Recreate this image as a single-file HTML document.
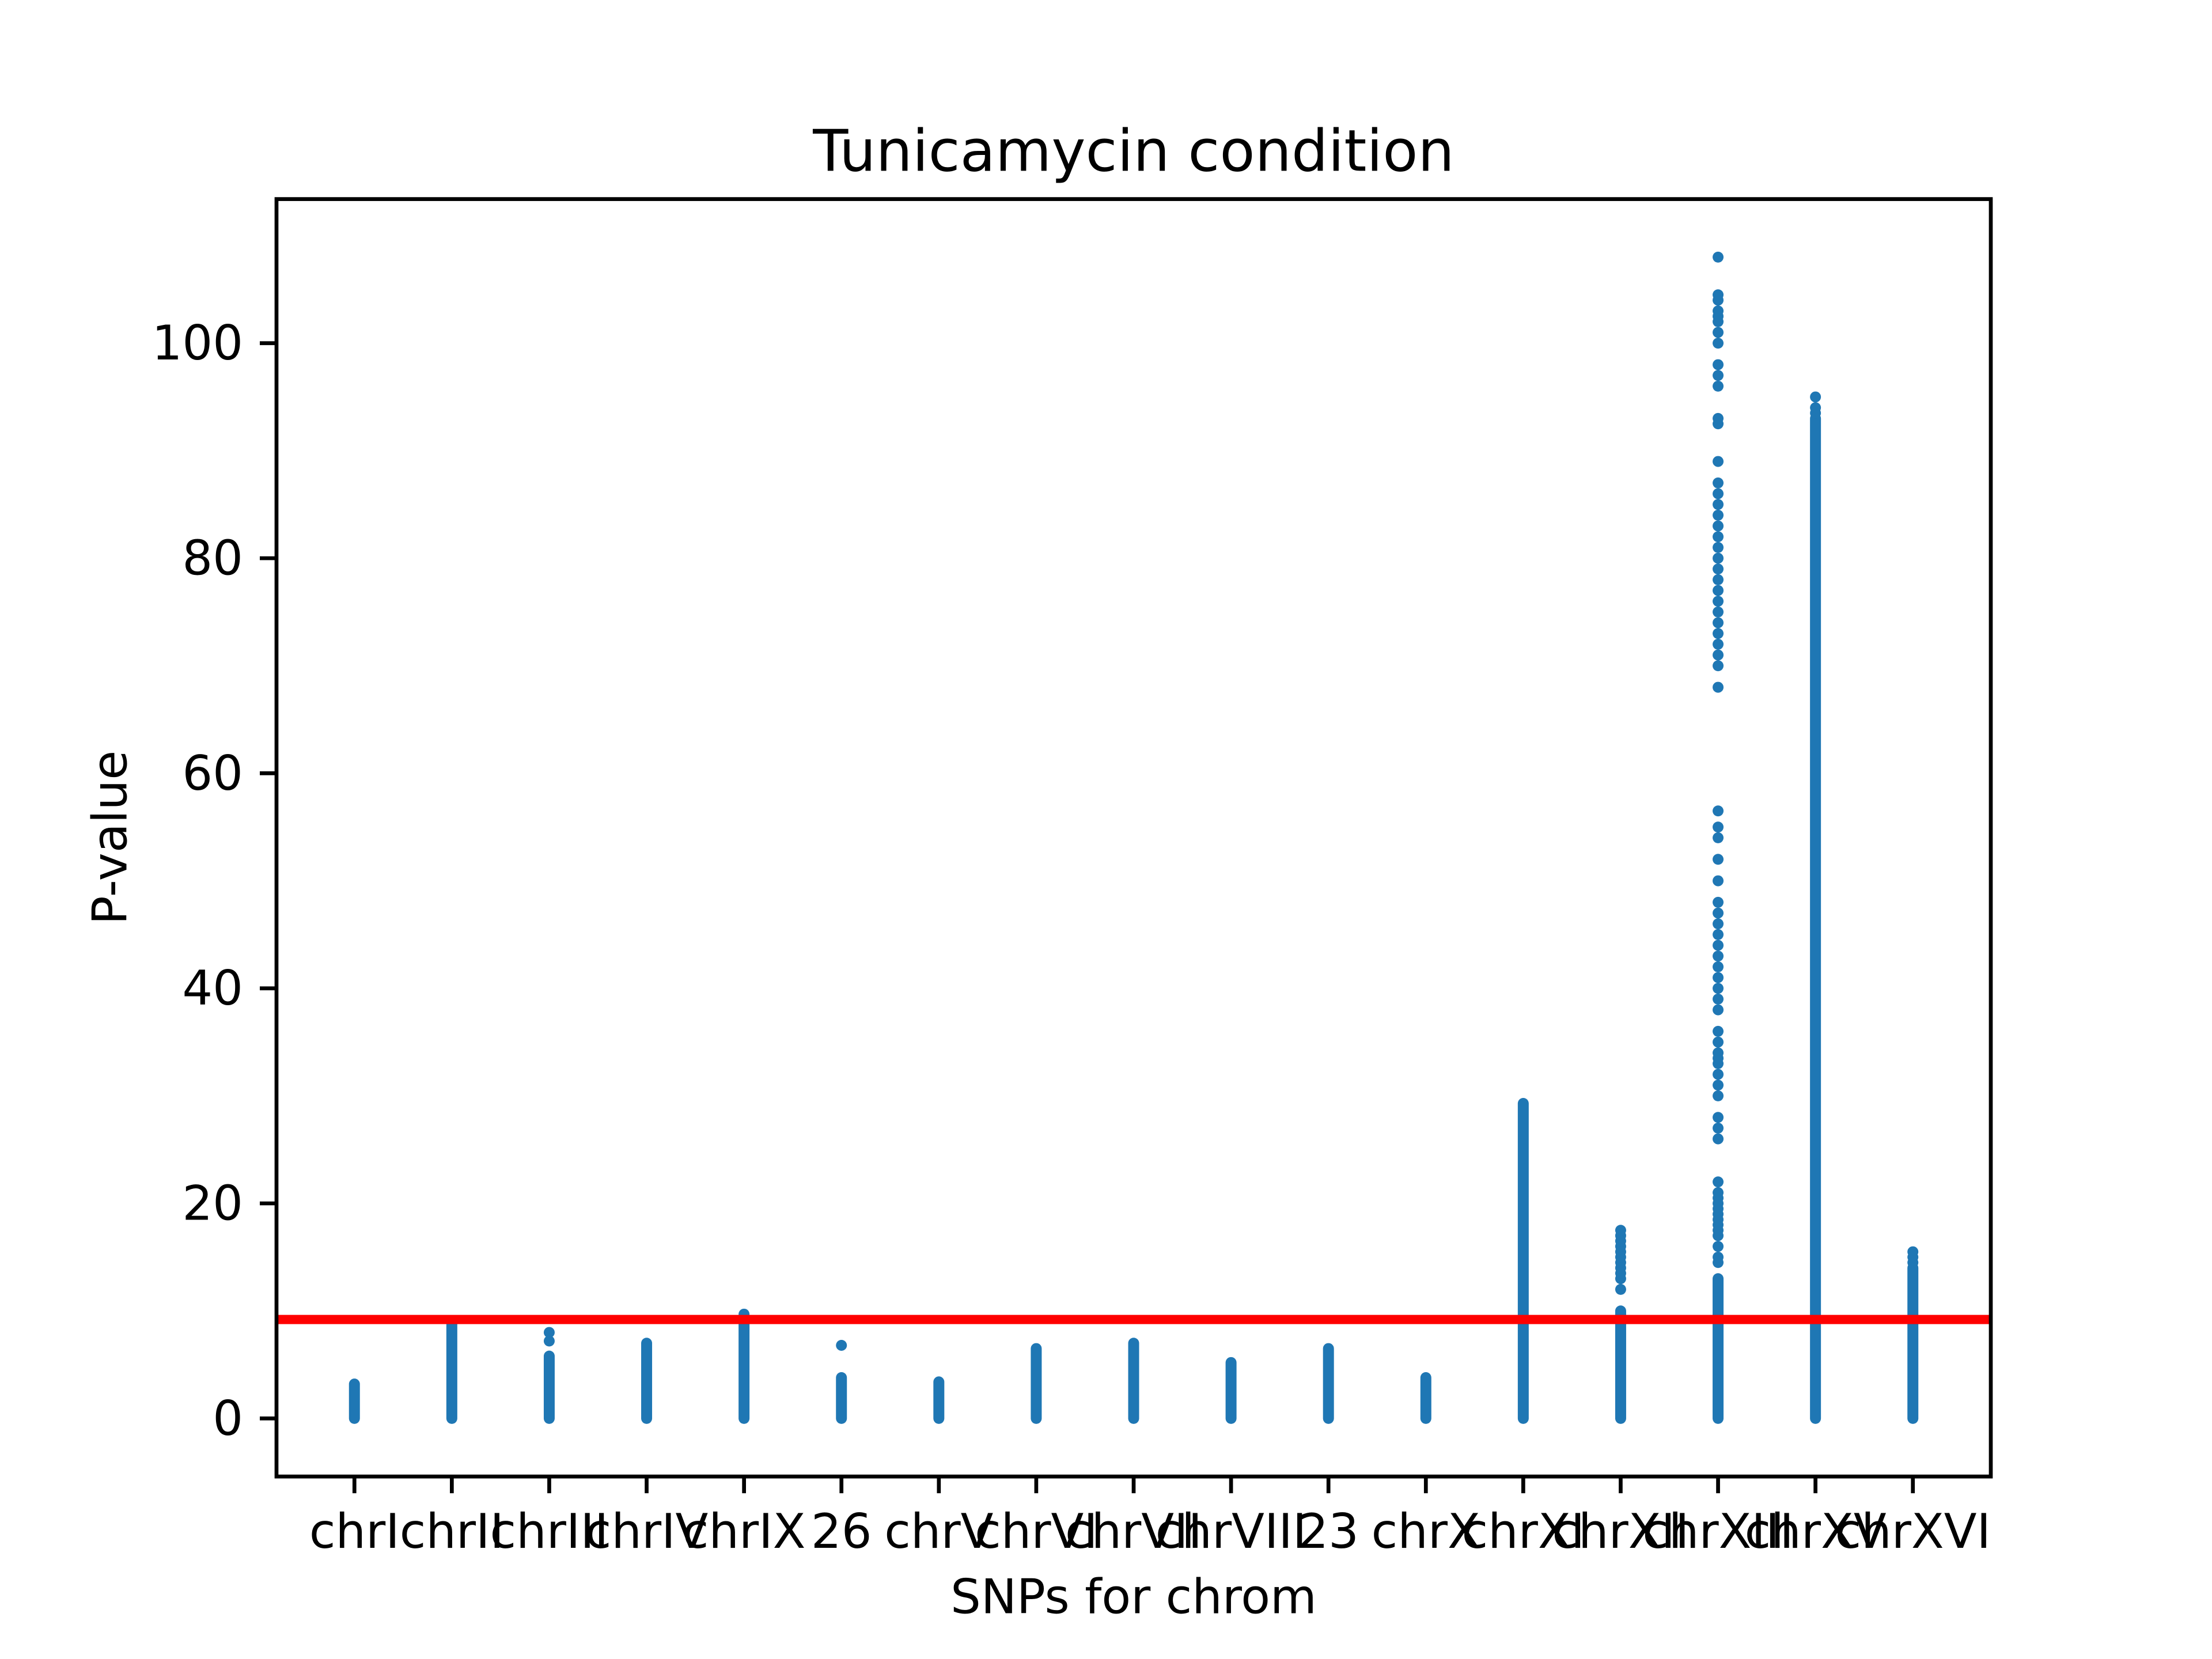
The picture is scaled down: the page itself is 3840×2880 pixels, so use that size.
<!DOCTYPE html>
<html><head><meta charset="utf-8"><style>
html,body{margin:0;padding:0;background:#fff;}
svg{display:block;font-family:"DejaVu Sans","Liberation Sans",sans-serif;}
</style></head><body>
<svg id="chart" width="3840" height="2880" viewBox="0 0 3840 2880" xmlns="http://www.w3.org/2000/svg">
<rect width="3840" height="2880" fill="#fff"/>
<text x="1968" y="262" font-size="100" text-anchor="middle" dominant-baseline="central">Tunicamycin condition</text>
<g id="plot"></g>
<text x="1968" y="2772" font-size="83" text-anchor="middle" dominant-baseline="central">SNPs for chrom</text>
<text transform="translate(191,1454) rotate(-90)" font-size="83" text-anchor="middle" dominant-baseline="central">P-value</text>
</svg>
<script>
const categories = ["chrI","chrII","chrIII","chrIV","chrIX","26","chrV","chrVI","chrVII","chrVIII","23","chrX","chrXI","chrXII","chrXIII","chrXV","chrXVI"];
const bandMax = [3.2, 8.8, 5.8, 7.0, 9.7, 3.8, 3.4, 6.5, 7.0, 5.2, 6.5, 3.8, 29.3, 10.0, 13.0, 93.0, 14.0];
const outliers = [[],[],[7.2,8.0],[],[],[6.8],[],[],[],[],[],[],[],
 [12,13,13.5,14,14.5,15,15.5,16,16.5,17,17.5],
 [14.5,15,16,17,17.5,18,18.5,19,19.5,20,20.5,21,22,26,27,28,30,31,32,33,33.5,34,35,36,38,39,40,41,42,43,44,45,46,47,48,50,52,54,55,56.5,68,70,71,72,73,74,75,76,77,78,79,80,81,82,83,84,85,86,87,89,92.5,93,96,97,98,100,101,102,102.5,103,104,104.5,108],
 [93.5,94,95],
 [14.5,15,15.5]];
const yTicks = [0,20,40,60,80,100];
const threshold = [9.2];

const L=480,R=3456,T=345.6,B=2563.2;
const xMin=-0.8,xMax=16.8,yMin=-5.4,yMax=113.4;
const X=v=>L+(v-xMin)/(xMax-xMin)*(R-L);
const Y=v=>B-(v-yMin)/(yMax-yMin)*(B-T);
const NS="http://www.w3.org/2000/svg";
const g=document.getElementById('plot');
function mk(t,a){const e=document.createElementNS(NS,t);for(const k in a)e.setAttribute(k,a[k]);g.appendChild(e);return e;}
const blue="#1f77b4";
categories.forEach((c,i)=>{
  const band=mk('line',{x1:X(i),x2:X(i),y1:Y(0),y2:Y(bandMax[i]),stroke:blue,'stroke-width':19,'stroke-linecap':'round'});
  
  
  outliers[i].forEach(v=>{
    const p=mk('circle',{cx:X(i),cy:Y(v),r:9.5,fill:blue});
    
    
  });
  const tk=mk('line',{x1:X(i),x2:X(i),y1:B,y2:B+29,stroke:'#000','stroke-width':6.7});
  
  
  const tl=mk('text',{x:X(i),y:B+62,'font-size':83,'text-anchor':'middle','dominant-baseline':'hanging'});
  tl.textContent=c;
  
  
});
threshold.forEach(v=>{
  const ln=mk('line',{x1:L,x2:R,y1:Y(v),y2:Y(v),stroke:'#ff0000','stroke-width':16});
  
  
});
yTicks.forEach(v=>{
  const tk=mk('line',{x1:L-29,x2:L,y1:Y(v),y2:Y(v),stroke:'#000','stroke-width':6.7});
  
  
  const tl=mk('text',{x:L-58,y:Y(v),'font-size':83,'text-anchor':'end','dominant-baseline':'central'});
  tl.textContent=v;
  
  
});
const fr=mk('rect',{x:L,y:T,width:R-L,height:B-T,fill:'none',stroke:'#000','stroke-width':6.7});


</script>
</body></html>
